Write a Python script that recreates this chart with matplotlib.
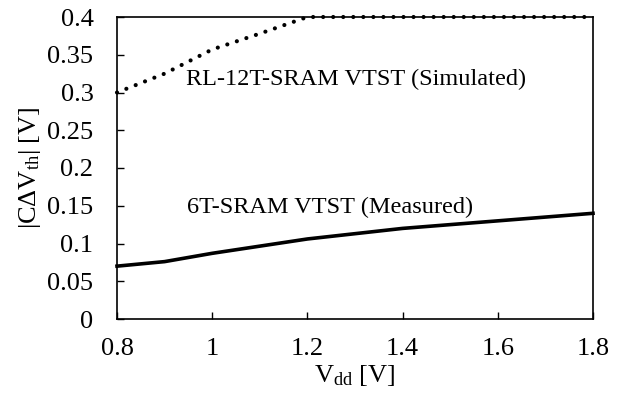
import numpy as np
import matplotlib
matplotlib.use('Agg')
import matplotlib.pyplot as plt

plt.rcParams['font.family'] = ['Liberation Serif', 'DejaVu Serif']
plt.rcParams['mathtext.fontset'] = 'custom'
plt.rcParams['mathtext.rm'] = 'Liberation Serif'
plt.rcParams['mathtext.it'] = 'Liberation Serif:italic'

# data
vdd_sim = [0.8, 0.9, 1.0, 1.1, 1.2, 1.4, 1.6, 1.8]
dvth_sim = [0.30, 0.325, 0.357, 0.378, 0.40, 0.40, 0.40, 0.40]
vdd_meas = [0.8, 0.9, 1.0, 1.2, 1.4, 1.6, 1.8]
dvth_meas = [0.07, 0.076, 0.087, 0.106, 0.12, 0.13, 0.14]
xticks = [0.8, 1.0, 1.2, 1.4, 1.6, 1.8]
xticklabels = ['0.8', '1', '1.2', '1.4', '1.6', '1.8']
yticks = [0, 0.05, 0.1, 0.15, 0.2, 0.25, 0.3, 0.35, 0.4]
yticklabels = ['0', '0.05', '0.1', '0.15', '0.2', '0.25', '0.3', '0.35', '0.4']

fig = plt.figure(figsize=(6.22, 3.97), dpi=100)
ax = fig.add_axes([117/622, 1-319/397, 476/622, 302/397])

ax.plot(vdd_sim, dvth_sim, color='black', lw=3.0, linestyle=(0, (0.01, 2.4)),
        dash_capstyle='round', clip_on=False)
ax.plot(vdd_meas, dvth_meas, color='black', lw=2.6, clip_on=False)

ax.text(0.946, 0.317, 'RL-12T-SRAM VTST (Simulated)', fontsize=17.5, va='center')
ax.text(0.947, 0.148, '6T-SRAM VTST (Measured)', fontsize=17.5, va='center')

ax.set_xlim(0.8, 1.8)
ax.set_ylim(0, 0.4)
ax.set_xticks(xticks)
ax.set_xticklabels(xticklabels)
ax.set_yticks(yticks)
ax.set_yticklabels(yticklabels)
ax.tick_params(direction='in', labelsize=19, length=5, width=1)
ax.tick_params(axis='y', pad=17)
ax.tick_params(axis='x', pad=14)
for s in ax.spines.values():
    s.set_linewidth(1.2)

ax.set_xlabel('V$_{\\mathrm{dd}}$ [V]', fontsize=19, labelpad=2)
ax.set_ylabel('|CΔV$_{\\mathrm{th}}$| [V]', fontsize=19, labelpad=3)

fig.savefig('out.png', dpi=100)
